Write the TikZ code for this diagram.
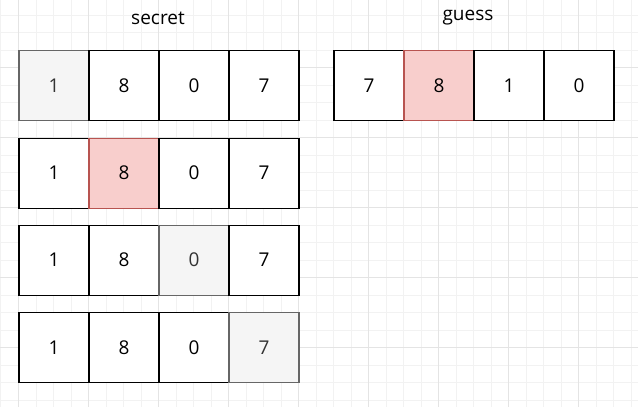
\documentclass[tikz,border=0pt]{standalone}
\usepackage{fontspec}
\setmainfont{Open Sans}
\definecolor{gridmajor}{HTML}{E4E4E4}
\definecolor{gridminor}{HTML}{F2F2F2}
\definecolor{greyfill}{HTML}{F5F5F5}
\definecolor{greyline}{HTML}{666666}
\definecolor{greytext}{HTML}{333333}
\definecolor{redfill}{HTML}{F8CECC}
\definecolor{redline}{HTML}{B85450}
\tikzset{
  cell/.style={draw=black, fill=white, line width=1.3pt, minimum width=70pt, minimum height=70pt, inner sep=0pt, font=\fontsize{19}{22}\selectfont, anchor=north west},
  greycell/.style={cell, draw=greyline, fill=greyfill, text=greytext},
  redcell/.style={cell, draw=redline, fill=redfill},
  title/.style={font=\fontsize{19}{22}\selectfont, inner sep=0pt}
}
\begin{document}
\begin{tikzpicture}[x=1pt,y=-1pt]
\useasboundingbox (0,0) rectangle (638,407);
\fill[white] (0,0) rectangle (638,407);
% minor grid
\foreach \i in {0,...,36} {
  \draw[gridminor, line width=0.6pt] ({0.8+17.5*\i},0) -- ({0.8+17.5*\i},407);
}
\foreach \i in {0,...,23} {
  \draw[gridminor, line width=0.6pt] (0,{-2.7+17.5*\i}) -- (638,{-2.7+17.5*\i});
}
% major grid
\foreach \i in {0,...,8} {
  \draw[gridmajor, line width=0.8pt] ({18.3+70*\i},0) -- ({18.3+70*\i},407);
}
\foreach \i in {0,...,5} {
  \draw[gridmajor, line width=0.8pt] (0,{-2.7+70*\i}) -- (638,{-2.7+70*\i});
}
% titles
\node[title] (tsecret) at (158,18) {secret};
\node[title] (tguess) at (468,18) {guess};
% secret rows
\node[greycell] (a1) at (18.3,50) {1};
\node[cell] (a2) at (88.3,50) {8};
\node[cell] (a3) at (158.3,50) {0};
\node[cell] (a4) at (228.3,50) {7};
\node[cell] (b1) at (18.3,137.5) {1};
\node[redcell] (b2) at (88.3,137.5) {8};
\node[cell] (b3) at (158.3,137.5) {0};
\node[cell] (b4) at (228.3,137.5) {7};
\node[cell] (c1) at (18.3,224.5) {1};
\node[cell] (c2) at (88.3,224.5) {8};
\node[greycell] (c3) at (158.3,224.5) {0};
\node[cell] (c4) at (228.3,224.5) {7};
\node[cell] (d1) at (18.3,312) {1};
\node[cell] (d2) at (88.3,312) {8};
\node[cell] (d3) at (158.3,312) {0};
\node[greycell] (d4) at (228.3,312) {7};
% guess row
\node[cell] (g1) at (333.3,50) {7};
\node[redcell] (g2) at (403.3,50) {8};
\node[cell] (g3) at (473.3,50) {1};
\node[cell] (g4) at (543.3,50) {0};
\end{tikzpicture}
\end{document}
